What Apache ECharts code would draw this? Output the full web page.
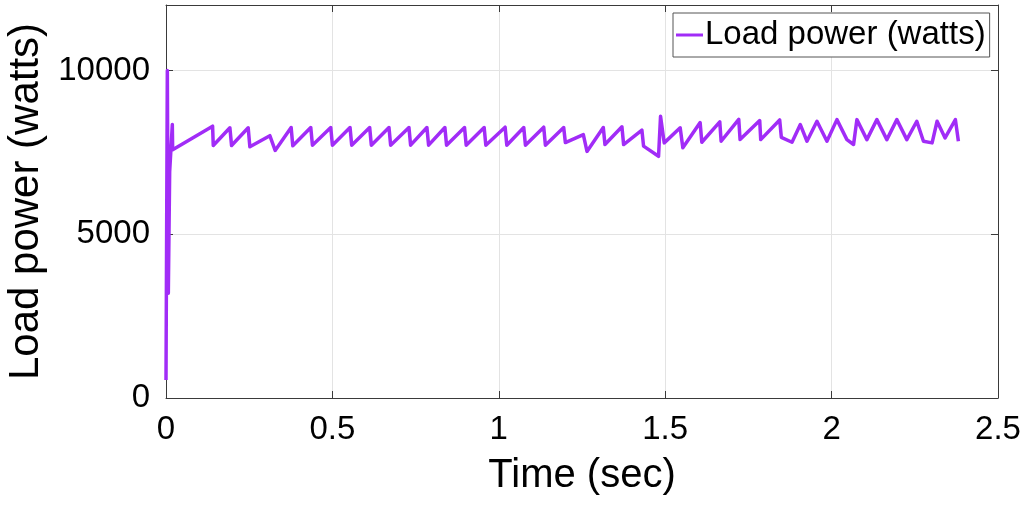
<!DOCTYPE html>
<html>
<head>
<meta charset="utf-8">
<script src="https://cdn.jsdelivr.net/npm/echarts@6/dist/echarts.min.js"></script>
<style>
html,body{margin:0;padding:0;background:#fff;}
#chart{width:1027px;height:505px;}
</style>
</head>
<body>
<div id="chart"></div>
<script>
var timeSec = [0.000, 0.004, 0.007, 0.011, 0.019, 0.020,
  0.140, 0.142, 0.192, 0.197, 0.247, 0.252, 0.312, 0.328, 0.376, 0.381,
  0.435, 0.440, 0.495, 0.500, 0.553, 0.558, 0.612, 0.617, 0.670, 0.675,
  0.730, 0.735, 0.784, 0.789, 0.838, 0.843, 0.897, 0.902, 0.956, 0.961,
  1.019, 1.024, 1.075, 1.080, 1.135, 1.140, 1.195, 1.200, 1.254, 1.265,
  1.314, 1.319, 1.370, 1.375, 1.430, 1.435, 1.480, 1.486, 1.497, 1.545,
  1.553, 1.605, 1.610, 1.664, 1.668, 1.721, 1.725, 1.784, 1.787, 1.844,
  1.849, 1.881, 1.906, 1.926, 1.956, 1.986, 2.016, 2.046, 2.066, 2.076,
  2.106, 2.136, 2.166, 2.196, 2.226, 2.256, 2.276, 2.302, 2.317, 2.341,
  2.372, 2.381];
var loadPower = [550, 10000, 3200, 6900, 8350, 7580,
  8300, 7710, 8250, 7710, 8250, 7670, 8010, 7560, 8260, 7700,
  8260, 7720, 8260, 7720, 8260, 7720, 8260, 7720, 8260, 7720,
  8260, 7720, 8260, 7720, 8260, 7720, 8260, 7720, 8260, 7720,
  8270, 7720, 8260, 7720, 8270, 7720, 8260, 7800, 8040, 7530,
  8260, 7740, 8280, 7740, 8180, 7690, 7380, 8600, 7790, 8250,
  7640, 8410, 7810, 8430, 7840, 8510, 7890, 8470, 7890, 8490,
  7960, 7810, 8350, 7840, 8450, 7840, 8500, 7890, 7740, 8500,
  7890, 8500, 7890, 8500, 7890, 8450, 7840, 7790, 8450, 7940,
  8500, 7840];
var xTickLabels = ['0', '0.5', '1', '1.5', '2', '2.5'];
var yTickLabels = ['0', '5000', '10000'];
var seriesName = 'Load power (watts)';

var points = timeSec.map(function (t, i) { return [t, loadPower[i]]; });
var FONT = "'Liberation Sans', Arial, Helvetica, sans-serif";
var chart = echarts.init(document.getElementById('chart'), null, {renderer: 'canvas'});
var frameColor = '#3a3a3a';
var tickStyle = {show: true, inside: true, length: 7, lineStyle: {color: frameColor}};
var frameLine = {show: true, onZero: false, lineStyle: {color: frameColor, width: 1}};
chart.setOption({
  animation: false,
  backgroundColor: '#ffffff',
  grid: {left: 166, top: 5, right: 29, bottom: 107, show: false, containLabel: false, outerBoundsMode: 'none'},
  legend: {
    data: [seriesName], left: 673, top: 13,
    padding: [5, 4, 5, 3],
    backgroundColor: '#ffffff', borderColor: '#555', borderWidth: 1, borderRadius: 0,
    icon: 'rect', itemWidth: 27, itemHeight: 3, itemGap: 0,
    textStyle: {fontFamily: FONT, fontSize: 33, color: '#000', padding: [0, 0, 0, -3], lineHeight: 34}
  },
  xAxis: [{
    type: 'value', min: 0, max: 2.5, interval: 0.5, position: 'bottom',
    name: 'Time (sec)', nameLocation: 'middle', nameGap: 58,
    nameTextStyle: {fontFamily: FONT, fontSize: 40, color: '#000'},
    axisLine: frameLine,
    axisTick: tickStyle,
    axisLabel: {fontFamily: FONT, fontSize: 33, color: '#000', margin: 15,
      formatter: function (v) { var i = Math.round(v / 0.5); return xTickLabels[i] || ''; }},
    splitLine: {show: true, lineStyle: {color: '#e3e3e3', width: 1}}
  }, {
    type: 'value', min: 0, max: 2.5, interval: 0.5, position: 'top',
    axisLine: frameLine, axisLabel: {show: false}, splitLine: {show: false},
    axisTick: tickStyle
  }],
  yAxis: [{
    type: 'value', min: 0, max: 12000, interval: 5000, position: 'left',
    name: 'Load power (watts)', nameLocation: 'middle', nameGap: 106,
    nameTextStyle: {fontFamily: FONT, fontSize: 42, color: '#000'},
    axisLine: frameLine,
    axisTick: tickStyle,
    axisLabel: {fontFamily: FONT, fontSize: 33, color: '#000', margin: 16, showMaxLabel: false,
      formatter: function (v) { var i = Math.round(v / 5000); return (v % 5000 === 0) ? (yTickLabels[i] || '') : ''; }},
    splitLine: {show: true, lineStyle: {color: '#e3e3e3', width: 1}}
  }, {
    type: 'value', min: 0, max: 12000, interval: 5000, position: 'right',
    axisLine: frameLine, axisLabel: {show: false}, splitLine: {show: false},
    axisTick: tickStyle
  }],
  series: [{
    name: seriesName, type: 'line', data: points, xAxisIndex: 0, yAxisIndex: 0,
    symbol: 'none', showSymbol: false, clip: true,
    lineStyle: {color: '#A12CF7', width: 3.5, join: 'round'},
    itemStyle: {color: '#A12CF7'}
  }]
});
</script>
</body>
</html>
